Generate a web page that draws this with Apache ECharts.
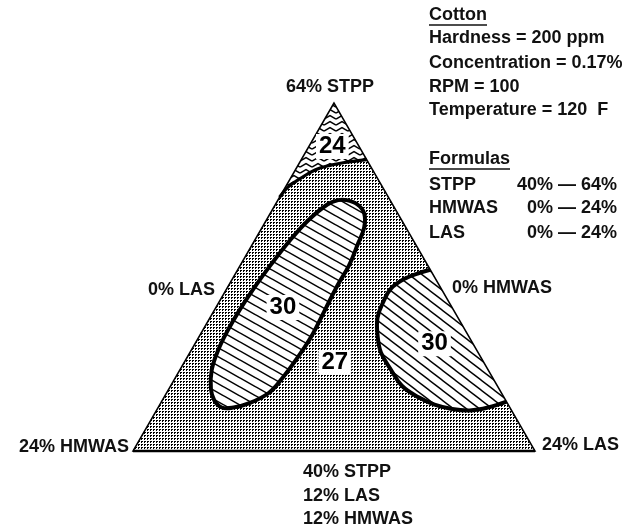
<!DOCTYPE html>
<html>
<head>
<meta charset="utf-8">
<script src="https://cdn.jsdelivr.net/npm/echarts@6/dist/echarts.min.js"></script>
<style>
  html, body { margin: 0; padding: 0; background: #fff; }
  #chart { width: 642px; height: 528px; }
</style>
</head>
<body>
<div id="chart"></div>
<script>
// all compositions are [LAS %, STPP %]; HMWAS = 64 - STPP - LAS
const corners = [[0, 64], [0, 40], [24, 40]]   // apex, 24% HMWAS, 24% LAS

// boundary of the "24" zone near the apex (right edge -> left edge)
const contour24 = [[3.9, 60.1], [2.7, 59.9], [1.9, 59.7], [1.2, 59.4], [0.6, 58.8], [0.15, 58.2], [0, 57.5]]

// closed "30" zone on the left
const contour30Left = [
  [4.1, 57.3], [4.9, 57.0], [5.6, 56.4], [6.1, 55.4], [6.3, 54.2], [6.5, 52.8], [6.5, 51.4],
  [6.6, 49.7], [6.7, 48.0], [6.6, 46.4], [6.4, 45.0], [6.1, 44.0], [5.3, 43.3], [4.5, 43.0],
  [3.8, 43.0], [3.1, 43.5], [2.5, 44.3], [1.9, 45.6], [1.6, 47.0], [1.5, 48.3], [1.5, 49.7],
  [1.6, 51.2], [1.8, 52.8], [2.1, 54.5], [2.5, 55.9], [3.1, 57.0], [3.6, 57.3]
]

// "30" zone on the 0% HMWAS side (edge -> edge)
const contour30Right = [
  [11.5, 52.5], [11.0, 52.3], [10.3, 51.9], [9.8, 51.2], [9.8, 50.3], [10.0, 49.2], [10.6, 48.0],
  [11.4, 46.8], [12.6, 45.6], [13.8, 44.5], [15.2, 43.7], [16.4, 43.2], [17.6, 42.9], [18.7, 42.8],
  [19.7, 43.0], [20.6, 43.4]
]

const levelValues = [24, 30, 27, 30]
const levelLas = [1.4, 4.0, 9.0, 14.3]
const levelStpp = [61.0, 49.9, 46.1, 47.4]

const conditions = ['Hardness = 200 ppm', 'Concentration = 0.17%', 'RPM = 100', 'Temperature = 120  F']
const formulaNames = ['STPP', 'HMWAS', 'LAS']
const formulaRanges = ['40% \u2014 64%', '0% \u2014 24%', '0% \u2014 24%']
const baseLabels = ['40% STPP', '12% LAS', '12% HMWAS']

const H = Math.sqrt(3) / 2
function toXY(p) {
  return [p[0] + (p[1] - 40) / 2, (p[1] - 40) * H]
}

// fill patterns
function makeCanvas(w, h) {
  const c = document.createElement('canvas')
  c.width = w
  c.height = h
  const g = c.getContext('2d')
  g.fillStyle = '#fff'
  g.fillRect(0, 0, w, h)
  return [c, g]
}
function stipple() {
  const [c, g] = makeCanvas(3, 3)
  g.fillStyle = '#000'
  g.fillRect(0, 0, 2, 1)
  g.fillRect(0, 1, 1, 1)
  return { image: c, repeat: 'repeat' }
}
function hatch(w, h, lw) {
  const [c, g] = makeCanvas(w, h)
  g.strokeStyle = '#000'
  g.lineWidth = lw
  for (let k = -1; k <= 1; k++) {
    g.beginPath()
    g.moveTo(-w, -h + k * h)
    g.lineTo(2 * w, 2 * h + k * h)
    g.stroke()
  }
  return { image: c, repeat: 'repeat' }
}
function zigzag() {
  const [c, g] = makeCanvas(12, 6)
  g.strokeStyle = '#000'
  g.lineWidth = 1.5
  g.beginPath()
  g.moveTo(0, 5)
  g.lineTo(6, 1.5)
  g.lineTo(12, 5)
  g.stroke()
  return { image: c, repeat: 'repeat' }
}

const dots = stipple()
const hatchLeft = hatch(16, 9, 1.5)
const hatchRight = hatch(13, 10, 1.4)
const zig = zigzag()

function shapeSeries(points, z, build) {
  return {
    type: 'custom',
    coordinateSystem: 'cartesian2d',
    silent: true,
    z: z,
    data: points.map(toXY),
    renderItem: function (params, api) {
      if (params.dataIndex !== 0) return
      return build(points.map(p => api.coord(toXY(p))))
    }
  }
}

const FONT = '"Liberation Sans", Arial, sans-serif'
function txt(text, x, y, align, size) {
  return {
    type: 'text', z: 100, silent: true,
    style: {
      text: text, x: x, y: y, fill: '#111',
      font: 'bold ' + (size || 18) + 'px ' + FONT,
      align: align || 'left', verticalAlign: 'middle',
      textAlign: align || 'left', textVerticalAlign: 'middle'
    }
  }
}
function uline(x1, x2, y) {
  return { type: 'line', z: 100, silent: true, shape: { x1: x1, y1: y, x2: x2, y2: y }, style: { stroke: '#111', lineWidth: 1.6 } }
}

const graphics = [
  txt('Cotton', 429, 15), uline(429, 487, 25),
  txt('Formulas', 429, 159), uline(429, 510, 169),
  txt('64% STPP', 330, 87, 'center'),
  txt('0% LAS', 215, 290, 'right'),
  txt('0% HMWAS', 452, 288),
  txt('24% HMWAS', 129, 447, 'right'),
  txt('24% LAS', 542, 445)
]
const condY = [38, 63, 87, 110]
conditions.forEach((t, i) => graphics.push(txt(t, 429, condY[i])))
const formY = [185, 208, 233]
formulaNames.forEach((t, i) => {
  graphics.push(txt(t, 429, formY[i]))
  graphics.push(txt(formulaRanges[i], 617, formY[i], 'right'))
})
const baseY = [472, 496, 519]
baseLabels.forEach((t, i) => graphics.push(txt(t, 303, baseY[i])))

const chart = echarts.init(document.getElementById('chart'))
chart.setOption({
  animation: false,
  backgroundColor: '#fff',
  grid: { left: 133, right: 107, top: 103, bottom: 77 },
  xAxis: { type: 'value', min: 0, max: 24, show: false },
  yAxis: { type: 'value', min: 0, max: 24 * H, show: false },
  graphic: { elements: graphics },
  series: [
    // whole diagram: the 27 zone
    shapeSeries(corners, 1, px => ({
      type: 'polygon', shape: { points: px }, style: { fill: dots, stroke: null }
    })),
    // 24 zone at the apex
    shapeSeries([corners[0], contour24[0], contour24[contour24.length - 1]], 2, px => ({
      type: 'polygon', shape: { points: px }, style: { fill: zig, stroke: null }
    })),
    shapeSeries(contour24, 3, px => ({
      type: 'polyline', shape: { points: px, smooth: 0.4 },
      style: { fill: dots, stroke: '#000', lineWidth: 3.2 }
    })),
    // 30 zones
    shapeSeries(contour30Left, 4, px => ({
      type: 'polygon', shape: { points: px, smooth: 0.4 },
      style: { fill: hatchLeft, stroke: '#000', lineWidth: 4 }
    })),
    shapeSeries(contour30Right, 4, px => ({
      type: 'polyline', shape: { points: px, smooth: 0.4 },
      style: { fill: hatchRight, stroke: '#000', lineWidth: 4 }
    })),
    // triangle outline
    shapeSeries(corners, 5, px => ({
      type: 'group',
      children: [
        { type: 'polygon', shape: { points: px }, style: { fill: null, stroke: '#000', lineWidth: 1.5 } },
        { type: 'line', shape: { x1: px[1][0], y1: px[1][1], x2: px[2][0], y2: px[2][1] }, style: { stroke: '#000', lineWidth: 2.5 } }
      ]
    })),
    {
      type: 'scatter',
      z: 10,
      silent: true,
      symbolSize: 0,
      itemStyle: { opacity: 1 },
      data: levelValues.map((v, i) => toXY([levelLas[i], levelStpp[i]]).concat([v])),
      label: {
        show: true, position: 'inside',
        formatter: p => String(p.value[2]),
        fontFamily: FONT, fontSize: 24, fontWeight: 'bold', color: '#000',
        opacity: 1,
        backgroundColor: '#fff', padding: [1, 3, 0, 3]
      }
    }
  ]
})
</script>
</body>
</html>
